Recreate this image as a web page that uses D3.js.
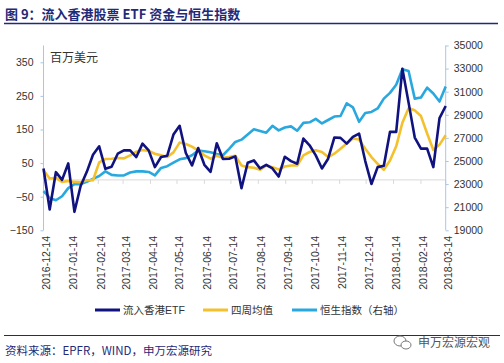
<!DOCTYPE html>
<html>
<head>
<meta charset="utf-8">
<script src="https://cdn.jsdelivr.net/npm/d3@7"></script>
<style>
body { margin: 0; background: #fff; }
svg { display: block; }
</style>
</head>
<body>
<div id="wrapper"></div>
<script>
// weekly data, first week 2016-12-14
const firstWeek = "2016-12-14";
const tickLabels = ["2016-12-14", "2017-01-14", "2017-02-14", "2017-03-14", "2017-04-14",
    "2017-05-14", "2017-06-14", "2017-07-14", "2017-08-14", "2017-09-14", "2017-10-14",
    "2017-11-14", "2017-12-14", "2018-01-14", "2018-02-14", "2018-03-14"];

// 流入香港ETF (百万美元)
const etfFlow = [34, -88, 23, 0, 49, -95, -18, 24, 75, 100,
    33, 39, 78, 88, 88, 68, 108, 88, 38, 68,
    72, 135, 161, 80, 43, 95, 45, 24, 109, 62,
    63, 70, -25, 51, 58, 34, 45, 34, 10, 69,
    56, 48, 123, 103, 73, 34, 63, 126, 125, 108,
    128, 138, 56, -12, 38, 42, 143, 143, 331, 230,
    126, 93, 93, 38, 184, 220];

// 四周均值
const avg4w = [29, 4, 6, -6, -3, -6, -7, -1, -1, 52,
    62, 63, 65, 64, 73, 84, 89, 86, 78, 73,
    68, 82, 111, 107, 99, 87, 73, 63, 72, 66,
    68, 72, 43, 38, 36, 30, 43, 38, 31, 40,
    43, 43, 73, 83, 88, 83, 68, 78, 93, 108,
    123, 120, 93, 68, 48, 30, 58, 100, 170, 213,
    207, 190, 138, 89, 105, 133];

// 恒生指数 (右轴)
const hsi = [22400, 21800, 21600, 21950, 22650, 23000, 23000, 23200, 23450, 23700,
    24100, 23800, 23750, 23750, 24000, 24100, 24100, 24050, 23750, 24400,
    24550, 24850, 25150, 25250, 25500, 25900, 25850, 25750, 25600, 25500,
    26050, 26650, 26850, 27300, 27750, 27600, 27450, 28050, 27650, 27900,
    28000, 27620, 28300, 28350, 28650, 28250, 28550, 28850, 28900, 30000,
    29650, 28400, 29150, 29250, 29550, 30400, 30900, 31600, 32950, 32800,
    30400, 30500, 31350, 30850, 30150, 31450];

const leftTicks = [-150, -50, 50, 150, 250, 350];
const rightTicks = [19000, 21000, 23000, 25000, 27000, 29000, 31000, 33000, 35000];

const seriesNames = ["流入香港ETF", "四周均值", "恒生指数（右轴）"];
const colors = ["#10137f", "#f4c12c", "#29a8df"];

const navy = "#1f2a78";
const axisColor = "#a8c7e4";
const latin = "'Liberation Sans', Arial, 'Noto Sans CJK SC', sans-serif";
const cjk = "'Noto Sans CJK SC', sans-serif";

const width = 504, height = 363;
const plot = { left: 43.5, right: 445.7, top: 45.5, bottom: 230.3 };

const parse = d3.timeParse("%Y-%m-%d");
const start = parse(firstWeek);
const weeks = etfFlow.map((d, i) => d3.timeDay.offset(start, 7 * i));

const x = d3.scaleTime()
    .domain([start, weeks[weeks.length - 1]])
    .range([plot.left, plot.right]);
const yL = d3.scaleLinear().domain([-150, 400]).range([plot.bottom, plot.top]);
const yR = d3.scaleLinear().domain([19000, 35000]).range([plot.bottom, plot.top]);

const svg = d3.select("#wrapper").append("svg")
    .attr("width", width)
    .attr("height", height);

// title
svg.append("text")
    .attr("x", 5).attr("y", 19)
    .attr("fill", navy)
    .style("font-family", cjk)
    .style("font-size", "13px")
    .style("font-weight", "bold")
    .text("图 9：流入香港股票 ETF 资金与恒生指数");
svg.append("line")
    .attr("x1", 4).attr("x2", 498)
    .attr("y1", 23.5).attr("y2", 23.5)
    .attr("stroke", navy).attr("stroke-width", 1.5);

// zero line with month ticks
const y0 = yL(0);
svg.append("line")
    .attr("x1", plot.left).attr("x2", plot.right)
    .attr("y1", y0).attr("y2", y0)
    .attr("stroke", "#d9d9d9").attr("stroke-width", 1);
svg.append("g")
    .selectAll("line")
    .data(tickLabels)
    .enter()
    .append("line")
    .attr("x1", d => x(parse(d))).attr("x2", d => x(parse(d)))
    .attr("y1", y0).attr("y2", y0 + 4)
    .attr("stroke", "#d9d9d9");

// left axis
const axisL = svg.append("g")
    .attr("transform", `translate(${plot.left},0)`)
    .call(d3.axisLeft(yL).tickValues(leftTicks).tickSize(3).tickPadding(7));
axisL.select(".domain").attr("stroke", axisColor).attr("d", `M0,${plot.top}V${plot.bottom}`);

// right axis
const axisR = svg.append("g")
    .attr("transform", `translate(${plot.right},0)`)
    .call(d3.axisRight(yR).tickValues(rightTicks).tickFormat(d3.format("d")).tickSize(3).tickPadding(5));
axisR.select(".domain").attr("stroke", axisColor).attr("d", `M0,${plot.top}V${plot.bottom}`);

[axisL, axisR].forEach(a => {
    a.selectAll(".tick line").attr("stroke", axisColor);
    a.selectAll(".tick text")
        .attr("fill", "#333")
        .style("font-family", latin)
        .style("font-size", "10.5px");
});

// x labels
svg.append("g")
    .selectAll("text")
    .data(tickLabels)
    .enter()
    .append("text")
    .attr("transform", d => `translate(${x(parse(d)) + 6.5},236) rotate(-90)`)
    .attr("text-anchor", "end")
    .attr("fill", "#333")
    .style("font-family", latin)
    .style("font-size", "10.5px")
    .text(d => d);

// unit label
svg.append("text")
    .attr("x", 50).attr("y", 62)
    .attr("fill", "#333")
    .style("font-family", cjk)
    .style("font-size", "12px")
    .text("百万美元");

// lines
const lineL = d3.line().x((d, i) => x(weeks[i])).y(d => yL(d));
const lineR = d3.line().x((d, i) => x(weeks[i])).y(d => yR(d));

svg.append("path").datum(hsi)
    .attr("d", lineR)
    .attr("fill", "none").attr("stroke", colors[2])
    .attr("stroke-width", 2.6).attr("stroke-linejoin", "round");
svg.append("path").datum(avg4w)
    .attr("d", lineL)
    .attr("fill", "none").attr("stroke", colors[1])
    .attr("stroke-width", 2.6).attr("stroke-linejoin", "round");
svg.append("path").datum(etfFlow)
    .attr("d", lineL)
    .attr("fill", "none").attr("stroke", colors[0])
    .attr("stroke-width", 2.6).attr("stroke-linejoin", "round");

// legend
const legendX = [95, 203, 292];
const legend = svg.append("g")
    .selectAll("g")
    .data(seriesNames)
    .enter()
    .append("g")
    .attr("transform", (d, i) => `translate(${legendX[i]},310)`);
legend.append("line")
    .attr("x1", 0).attr("x2", 25)
    .attr("stroke", (d, i) => colors[i])
    .attr("stroke-width", 3);
legend.append("text")
    .attr("x", 28).attr("y", 4)
    .attr("fill", "#333")
    .style("font-family", latin)
    .style("font-size", "10.5px")
    .text(d => d);

// footer
svg.append("line")
    .attr("x1", 4).attr("x2", 500)
    .attr("y1", 335.5).attr("y2", 335.5)
    .attr("stroke", navy).attr("stroke-width", 1);
svg.append("text")
    .attr("x", 5).attr("y", 355)
    .attr("fill", navy)
    .style("font-family", cjk)
    .style("font-size", "11.5px")
    .text("资料来源：EPFR，WIND，申万宏源研究");

// watermark
const wm = svg.append("g").attr("transform", "translate(402,342)");
wm.append("ellipse").attr("cx", -2).attr("cy", -1).attr("rx", 6).attr("ry", 5)
    .attr("fill", "none").attr("stroke", "#777").attr("stroke-width", 1);
wm.append("ellipse").attr("cx", 4).attr("cy", 3).attr("rx", 5).attr("ry", 4)
    .attr("fill", "#fff").attr("stroke", "#777").attr("stroke-width", 1);
svg.append("text")
    .attr("x", 418).attr("y", 347)
    .attr("fill", "#555")
    .style("font-family", cjk)
    .style("font-size", "12px")
    .text("申万宏源宏观");
</script>
</body>
</html>
